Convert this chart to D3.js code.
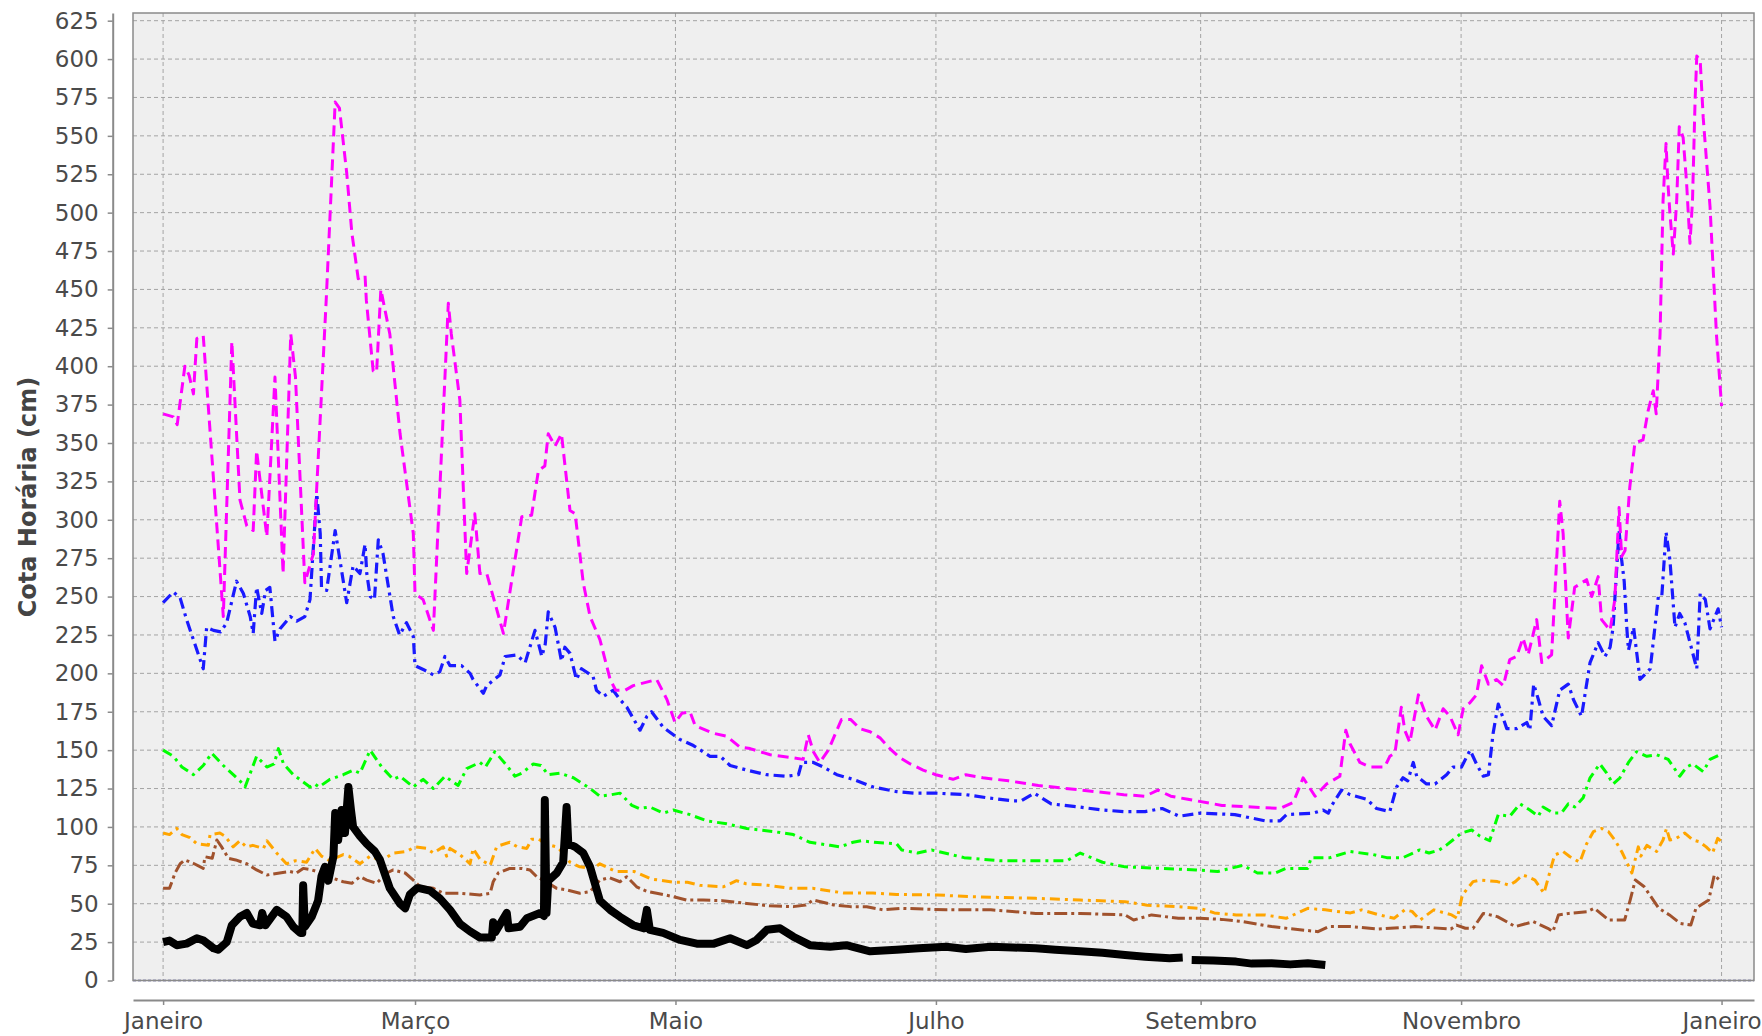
<!DOCTYPE html>
<html>
<head>
<meta charset="utf-8">
<script src="https://cdn.jsdelivr.net/npm/d3@7"></script>
<style>
  body { margin: 0; background: #fff; }
  text { font-family: "DejaVu Sans", sans-serif; }
</style>
</head>
<body>
<script>
// dia do ano (0 = 1 de janeiro) e cota em cm
const rosa = [[0,369],[2.4,367],[3.3,362],[5.1,400],[6.1,394],[7.1,382],[7.9,418],[9.4,420],[14.1,237],[16.1,416],[18,313],[19.6,296],[21.1,293],[21.9,345],[22.7,326],[24.3,289],[26.2,393],[28.1,265],[29.9,421],[31,393],[33.2,259],[35.2,278],[38.2,443],[40.3,572],[41.3,568],[43,526],[44.2,487],[45.7,457],[47.3,459],[47.6,443],[49.2,397],[50,396],[51,450],[53.1,421],[55.5,356],[58.6,291],[59,252],[60.9,248],[63.3,228],[66.8,441],[67.5,421],[69.5,378],[71.1,265],[73,304],[74.2,265],[75.8,265],[79.7,226],[84,302],[86.3,303],[87.9,332],[89.4,335],[90.2,356],[91.8,348],[93.3,356],[95.3,306],[96.5,304],[98.4,259],[100,237],[102.3,222],[104.7,196],[106,189],[108.2,189],[110.1,192],[115.6,196],[118,183],[119.9,168],[121.5,174],[123.4,175],[124.6,166],[128.9,161],[132,159],[135.1,152],[137.5,151],[142.2,147],[147.6,145],[149.9,144],[151.1,160],[152.3,149],[153.8,142],[155.8,150],[158.9,170],[161,170],[163.2,164],[165.6,162],[167.9,158],[170.2,151],[172.6,145],[175,141],[178,137],[181,134],[185,131],[188,134],[192,132],[198,130],[205,127],[215,124],[225,121],[230,120],[233,124],[236,120],[240,118],[248,114],[255,113],[261.6,112],[264.7,116],[267,132],[269.8,120],[272.5,128],[275.6,133],[277,163],[278,154],[280.3,142],[282.6,139],[286.1,139],[287.3,146],[288.5,148],[290,178],[290.8,163],[292,155],[294,186],[295.9,172],[297.9,163],[299.8,177],[301.4,172],[303.3,160],[304.5,177],[306.1,181],[307.6,186],[308.8,205],[310.4,193],[312.3,196],[313.9,192],[315.4,209],[317,211],[318.5,223],[319.7,212],[321.7,235],[322.9,207],[325.2,212],[327.1,312],[327.9,291],[329.1,223],[330.6,256],[333.4,261],[334.6,250],[336.1,263],[336.9,235],[338.9,228],[340,248],[341,308],[341.6,276],[342.4,280],[343.5,321],[344.7,350],[346.6,352],[347.8,371],[349,384],[349.7,369],[350.6,421],[351.3,508],[352,545],[352.4,521],[352.9,500],[353.7,473],[354.5,508],[355.1,556],[356,549],[356.8,520],[357.6,480],[358.2,508],[358.8,573],[359.2,602],[360,599],[360.7,562],[362.3,504],[363.8,421],[365,374]];

const azul = [[0,246],[2.4,253],[4,249],[5.5,235],[9.4,203],[10.2,230],[11.8,228],[13.5,227],[14.9,233],[17.2,260],[18.8,252],[20.4,237],[21.1,226],[21.9,256],[23.1,239],[24,254],[25,256],[26.2,221],[27.4,229],[29.8,237],[31.3,234],[33.2,237],[34.4,248],[36,317],[36.8,291],[37.1,256],[38.3,254],[40.3,293],[41.4,274],[43,246],[44.5,270],[46.1,265],[47.3,284],[47.7,265],[48.5,250],[49.5,248],[50.4,287],[51.5,278],[53.9,237],[55.4,225],[57,233],[58.6,224],[59,205],[61.3,202],[63.3,199],[64.8,201],[66,211],[67.2,205],[69.9,205],[71.9,200],[72.6,196],[75,187],[75.8,192],[78.9,199],[80.1,211],[82.8,212],[84.8,207],[87.1,228],[88.7,211],[89.5,219],[90.2,240],[91.8,230],[93.3,208],[94.1,217],[95.3,213],[96.8,196],[98,203],[100.7,198],[101.5,189],[103.1,185],[105.4,189],[107,183],[108.6,178],[111.7,163],[113.3,172],[114.4,175],[117.1,165],[119.5,160],[121,157],[124.2,153],[128.1,146],[130.5,146],[132.8,140],[136.7,137],[141.4,134],[146,133],[148.8,134],[149.6,142],[152.3,142],[154.6,139],[157.8,134],[161.6,131],[166.3,126],[171.8,123],[176,122],[181,122],[188,121],[193,119],[199,117],[201,117],[204,122],[208,115],[214.5,113],[220,111],[225,110],[230,110],[234,112],[238,107],[243,109],[251,108],[258,104],[261.6,104],[263.1,108],[269.4,109],[271.7,111],[272.9,109],[273.7,114],[276,124],[278,121],[281.9,118],[284.2,112],[287.3,110],[288.9,126],[290.4,132],[291.5,130],[292.8,142],[293.6,133],[295.9,128],[297.9,128],[300.6,134],[302.1,139],[304.1,139],[306.1,150],[307.6,141],[309.2,133],[310.4,134],[311.5,161],[312.7,180],[314.7,164],[317,164],[319.4,168],[320.1,163],[321,193],[322.1,183],[323.2,172],[325.2,166],[327.1,189],[329.1,193],[330.3,183],[332.2,172],[334.2,207],[336.1,220],[337.7,211],[338.9,217],[339.6,230],[341,293],[341.6,274],[342.2,260],[342.8,230],[343.2,215],[344.4,230],[345.9,196],[348.3,203],[350.2,250],[351,250],[352,292],[352.9,274],[354.1,230],[355.2,239],[356.4,233],[359.2,203],[360,252],[361.2,248],[362.3,229],[364.2,242],[365,230]];

const verde = [[0,150],[2.4,146],[4.4,139],[7.1,134],[9.4,140],[11.4,148],[14.1,140],[18,130],[19.2,126],[21.9,146],[24.3,139],[26,141],[27,151],[28.2,141],[30.5,134],[34.4,126],[35.5,128],[36.5,126],[39.1,131],[42.2,134],[44.5,137],[46.1,135],[48.5,150],[51.2,139],[53.9,131],[55.5,133],[58.6,126],[60.9,131],[63.3,125],[66,133],[69.1,127],[71.1,138],[74.2,142],[75.5,139],[77.7,149],[80.5,140],[82.4,133],[84,135],[86.7,141],[88.5,140],[90.2,134],[93,135],[96.1,132],[100,125],[102.3,120],[105,121],[107,122],[109.8,114],[111.5,112],[114,113],[117.1,109],[119.5,111],[123.4,108],[127.3,104],[132,102],[136.7,99],[142.9,97],[147.6,95],[151.5,90],[156.2,88],[158.5,87],[161.6,90],[163.5,91],[166.5,90],[171.8,89],[173,85],[176.7,83],[180,85],[187.6,80],[196,78],[211.7,78],[214.8,83],[220,77],[225.3,74],[233.6,73],[242,72],[247,71],[252.9,75],[256.3,70],[260.5,70],[263,73],[268.1,73],[268.9,80],[273.3,80],[278,84],[283.4,82],[286.6,80],[290.4,80],[294.3,85],[296.5,83],[298.9,85],[300.5,88],[304.1,96],[306.5,98],[308.4,94],[310.7,91],[312.7,108],[315.4,107],[317.8,115],[320.1,111],[322.1,107],[323.2,113],[325.6,109],[327.5,109],[329.1,115],[330.6,113],[332.6,119],[334.2,132],[336.5,141],[338.1,135],[339.6,128],[341.2,132],[343.2,142],[345.1,149],[347.5,146],[349.8,147],[352.5,144],[355.2,133],[356.8,139],[358.3,141],[360.7,136],[362.3,144],[364.6,147]];

const laranja = [[0,96],[1.5,95],[3.2,99],[4.4,95],[6.3,93],[7.9,89],[10.6,88],[11,95],[13.3,96],[14.5,94],[16.4,87],[18,91],[19.5,87],[21,88],[23.5,86],[24.3,91],[26.6,83],[28.9,76],[31,78],[33.6,77],[35.6,86],[37.1,81],[39,78],[42.2,82],[43.5,81],[46.1,76],[48.5,81],[51.2,78],[53.9,83],[57,84],[59,87],[61.7,86],[63.3,83],[65.6,87],[66.4,81],[67.2,86],[69.5,82],[71.9,76],[72.6,86],[74.2,79],[76.6,75],[78.1,87],[78.9,88],[81.2,90],[83,87],[85.2,86],[86.3,92],[88,92],[89.5,89],[92.2,87],[93,85],[95.3,77],[97.6,74],[100.7,73],[102.3,76],[104.5,73],[106,71],[110.3,71],[114.5,66],[119.7,64],[122.8,64],[125.7,62],[131.2,61],[134.3,65],[136.5,63],[141.6,62],[146.8,60],[152.1,60],[157,58],[159.4,57],[166.3,57],[171.8,56],[181.4,55.7],[188.7,54.6],[204.4,53.5],[214.8,52.4],[225.3,51.3],[230.5,49],[237.8,48],[242.8,47],[246.2,44],[251.3,42.7],[258,42.7],[263,40.5],[268.1,47],[272.2,46],[274.9,45],[278.1,44],[280.7,46],[284.9,42.7],[288.3,40.5],[290.8,46],[292.5,45],[294.4,39.4],[297.6,46],[301.8,42.7],[303.1,40.5],[304.3,55.7],[306.8,64.4],[308.5,65.4],[312.5,64.4],[315.3,62],[316.7,64.4],[318.4,68.7],[319.6,67.6],[321.3,65.4],[323.4,56.8],[325.9,81.7],[327.9,84],[329.5,80.6],[331.8,77],[333.4,89],[335,97],[336.9,99],[338.5,97],[340,91.5],[341.6,84],[342.3,80],[344,70],[345.5,87],[346.1,81],[347.5,88],[349.8,84],[351.3,91.5],[352.1,99],[352.9,91.5],[354.4,92.6],[356.4,96],[358.3,91.5],[359.8,90.4],[361.4,87],[362.9,83],[364.1,92.6],[365,90.4]];

const marrom = [[0,60],[1.5,60],[2.8,70],[4,76],[5.1,78.5],[7.3,76],[9.4,73],[9.8,80.6],[11.5,79.6],[12.6,91.5],[13.7,87],[15.3,79.6],[17,78.5],[19.6,76],[21.9,72],[24.3,68.7],[27.3,70],[29.7,71],[31.2,70],[32.8,73],[34.8,72],[37.1,70],[39.9,66.5],[42.2,64.3],[44.2,63.3],[46.1,67.6],[47.7,65.4],[50,63.3],[52.4,70],[53.9,72],[56.7,70],[58.6,65.4],[60.2,61],[63.3,60],[65.6,56.8],[69.5,56.8],[74.2,55.7],[76.6,56.8],[77.3,64.3],[78.5,70],[81.2,73],[84,73],[85.9,72],[87.5,67.6],[89,65.4],[92.2,60],[94.5,59],[97.6,56.8],[100,57.9],[102.3,65.4],[104.5,67],[107,64.3],[108.6,67.6],[110.9,61],[113.3,58],[115.6,56.8],[119.5,54.6],[122.6,52.4],[126.5,52.4],[131,52],[136.7,50.2],[142,48.6],[147.6,48.1],[150.5,49.2],[152.3,52.4],[154,51.3],[157,49.2],[161,48.1],[164.8,48],[168.7,46],[173,47],[183.4,46],[193.9,46],[204.4,43.7],[214.8,43.7],[225.3,42.7],[227.3,39.4],[231.5,42.7],[237.8,40.5],[242.8,40.5],[247.9,39.8],[252.9,38.3],[259.6,35.1],[264.7,33.5],[270.5,31.8],[273,35.1],[278.1,35.1],[284.7,33.5],[293.2,35.1],[301.6,33.5],[302.9,36.1],[305,34],[306.8,34],[309.2,43.7],[312.5,41.6],[316.7,35.1],[320.9,38.3],[324.3,34],[325.5,31.8],[326.8,42.7],[329.3,43.7],[333.5,44.8],[335.2,47],[338.6,39.4],[342.3,39.4],[343.6,52.4],[344.8,65.4],[346.9,61],[350.3,47],[352.8,42.7],[355.3,37.2],[357.8,36.1],[359,47],[362,52.4],[363.3,68.7],[364.5,65.4]];

// null = falha nos dados
const preto = [[0,25],[1.5,26],[3.2,23],[5.5,24],[7.9,27.5],[9.5,26],[11.8,21],[12.9,20],[14.9,25],[16.1,36],[18,41.5],[19.6,44],[21,37],[22.7,36],[23.2,44],[24,36],[26.6,46],[28.9,41.5],[30.5,35],[32.1,31],[32.6,31],[32.8,62],[33.2,35],[34.8,41.5],[36.3,52],[37.1,68],[37.9,74],[38.7,65],[39.9,81],[40.3,109],[41,91.5],[41.8,111],[42.6,96],[43.4,126],[44,111],[44.5,100],[46.1,94],[47.7,89],[49.6,84],[50.8,78.5],[53.1,60],[55.5,50],[56.7,47],[57.8,56],[59.4,60],[60.2,60],[62.5,58.5],[64.8,53.5],[67.2,46],[69.5,37],[71.9,32],[74.2,28],[77,28],[77.3,38],[77.8,31.5],[80.5,44],[80.9,34],[83.6,35],[85.2,40.5],[88.3,44],[89.2,42],[89.4,117.5],[89.8,44],[90.2,65],[92.2,70],[93.7,77],[94.5,113],[94.9,89],[96.5,87],[98.4,83],[100,74],[102.3,52],[104.7,46],[107,41.5],[110.1,36],[112.5,34],[113.3,46],[114,33],[117.1,31],[121.1,26.4],[125,24],[129,24],[132.8,27.5],[136.7,23],[139,26.4],[141.4,33],[144.5,34],[147.6,28.5],[151.5,23],[156.2,22],[160,23],[165.6,19],[171.8,20],[177,21],[183.4,22],[188,20.5],[193.9,22],[199,21.5],[204.4,21],[209,20],[214.8,19],[220,18],[225.3,16.6],[230,15.5],[235.7,14.5],[238.8,15],[239.5,null],[240.9,13.3],[246,13],[251.3,12.3],[255,11],[259.6,11.2],[264,10.5],[268.1,11.2],[272.2,10.1]];

const cotas = d3.range(0, 626, 25);
const mesesDia = [0, 59, 120, 181, 243, 304, 365];
const mesesNome = ['Janeiro', 'Março', 'Maio', 'Julho', 'Setembro', 'Novembro', 'Janeiro'];

const width = 1762;
const height = 1036;
const esq = 133, dir = 1754, topo = 13, base = 980.5;

const dia = (d) => new Date(Date.UTC(2013, 0, 1) + d * 864e5);

const xScale = d3.scaleUtc()
                .domain([dia(-7.05), dia(372.6)])
                .range([esq, dir]);

const yScale = d3.scaleLinear()
                .domain([0, 630])
                .range([base, topo]);

const svg = d3.select('body')
                .append('svg')
                .attr('width', width)
                .attr('height', height);

svg.append('rect')
    .attr('x', esq).attr('y', topo)
    .attr('width', dir - esq).attr('height', base - topo)
    .style('fill', '#efefef');

svg.append('clipPath').attr('id', 'area')
    .append('rect')
    .attr('x', esq).attr('y', topo)
    .attr('width', dir - esq).attr('height', base - topo);

// grade
svg.append('g').selectAll('line')
    .data(cotas.slice(1))
    .enter().append('line')
    .attr('x1', esq).attr('x2', dir)
    .attr('y1', (d) => yScale(d)).attr('y2', (d) => yScale(d))
    .style('stroke', '#a4a4a4').style('stroke-width', 1).style('stroke-dasharray', '4,3');

svg.append('g').selectAll('line')
    .data(mesesDia)
    .enter().append('line')
    .attr('x1', (d) => xScale(dia(d))).attr('x2', (d) => xScale(dia(d)))
    .attr('y1', topo).attr('y2', base)
    .style('stroke', '#a4a4a4').style('stroke-width', 1).style('stroke-dasharray', '4,3');

const series = [
  {dados: marrom, cor: '#a0522d', largura: 3, traco: '13,4,3,4'},
  {dados: laranja, cor: '#ffa500', largura: 3, traco: '10,5,3,5'},
  {dados: verde, cor: '#00ff00', largura: 3, traco: '10,5,3,5'},
  {dados: azul, cor: '#1a1aff', largura: 3.2, traco: '11,5,3,5'},
  {dados: rosa, cor: '#ff00ff', largura: 3, traco: '11,6'},
  {dados: preto, cor: '#000000', largura: 8, traco: null}
];

const linha = d3.line()
    .defined((d) => d[1] !== null)
    .x((d) => xScale(dia(d[0])))
    .y((d) => yScale(d[1]));

svg.append('g')
    .attr('clip-path', 'url(#area)')
    .selectAll('path')
    .data(series)
    .enter().append('path')
    .attr('d', (s) => linha(s.dados))
    .style('fill', 'none')
    .style('stroke', (s) => s.cor)
    .style('stroke-width', (s) => s.largura)
    .style('stroke-dasharray', (s) => s.traco)
    .style('stroke-linejoin', 'round');

// linha do zero
svg.append('line')
    .attr('x1', esq).attr('x2', dir)
    .attr('y1', yScale(0)).attr('y2', yScale(0))
    .style('stroke', '#2c2c80').style('stroke-width', 1.5).style('stroke-dasharray', '3,2');

svg.append('rect')
    .attr('x', esq).attr('y', topo)
    .attr('width', dir - esq).attr('height', base - topo)
    .style('fill', 'none').style('stroke', '#8a8a8a').style('stroke-width', 1.5);

const yAxis = d3.axisLeft(yScale)
                .tickValues(cotas)
                .tickSize(5)
                .tickSizeOuter(0)
                .tickPadding(9);

const xAxis = d3.axisBottom(xScale)
                .tickValues(mesesDia.map(dia))
                .tickFormat((d, i) => mesesNome[i])
                .tickSize(5)
                .tickSizeOuter(0)
                .tickPadding(8);

const gy = svg.append('g')
    .attr('transform', 'translate(112.7, 0)')
    .call(yAxis);

const gx = svg.append('g')
    .attr('transform', 'translate(0, 1000)')
    .call(xAxis);

[gx, gy].forEach((g) => {
  g.select('.domain').style('stroke', '#8a8a8a').style('stroke-width', 2);
  g.selectAll('.tick line').style('stroke', '#8a8a8a').style('stroke-width', 1.5);
  g.selectAll('.tick text')
    .style('font-family', '"DejaVu Sans", sans-serif')
    .style('font-size', '23px')
    .style('fill', '#4a4a4a');
});

svg.append('text')
    .attr('transform', 'translate(28, 497) rotate(-90)')
    .attr('text-anchor', 'middle')
    .attr('dy', '0.35em')
    .style('font-size', '24px')
    .style('font-weight', 'bold')
    .style('fill', '#444')
    .text('Cota Horária (cm)');
</script>
</body>
</html>
